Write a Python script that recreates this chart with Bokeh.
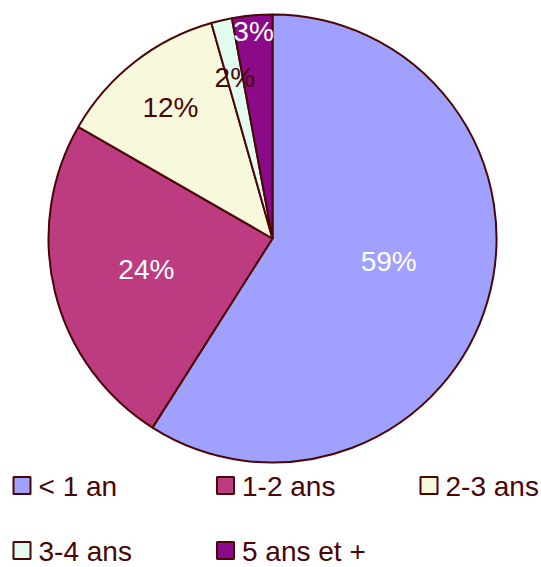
import math
from bokeh.plotting import figure
from bokeh.models import Range1d, ColumnDataSource
from bokeh.core.properties import value
from bokeh.embed import file_html
from bokeh.resources import INLINE

# ---- data ----
categories = ["< 1 an", "1-2 ans", "2-3 ans", "3-4 ans", "5 ans et +"]
shares = [59.0, 24.3, 12.3, 1.5, 2.9]
pct_labels = ["59%", "24%", "12%", "2%", "3%"]

# ---- styles ----
colors = ["#a0a0ff", "#bd3b80", "#f8f8dc", "#e0fcee", "#8a0a8a"]
label_colors = ["white", "white", "#4a0505", "#4a0505", "white"]
label_radius_frac = [0.54, 0.58, 0.74, 0.74, 0.93]
label_dy = [-11, 0, 0, 0, 0]
dark = "#4a0505"
FONT = "Liberation Sans"

W, H = 541, 567
cx, cy, R = 272, -238, 224  # page-pixel coordinates (y up, negative)

p = figure(width=W, height=H, output_backend="svg", toolbar_location=None,
           x_range=Range1d(0, W), y_range=Range1d(-H, 0),
           min_border=0)
p.axis.visible = False
p.grid.visible = False
p.outline_line_color = None
p.background_fill_color = "white"
p.border_fill_color = "white"

total = sum(shares)
starts, ends, lx, ly = [], [], [], []
cum = 0.0
for i, s in enumerate(shares):
    a0 = cum / total * 2 * math.pi
    cum += s
    a1 = cum / total * 2 * math.pi
    starts.append(math.pi / 2 - a0)
    ends.append(math.pi / 2 - a1)
    mid = (a0 + a1) / 2
    r = R * label_radius_frac[i]
    lx.append(cx + r * math.sin(mid))
    ly.append(cy + r * math.cos(mid))

src = ColumnDataSource(dict(start=starts, end=ends, color=colors,
                            lx=lx, ly=ly, lab=pct_labels, lc=label_colors,
                            dy=label_dy))
p.wedge(x=cx, y=cy, radius=R, start_angle="start", end_angle="end",
        direction="clock", fill_color="color", line_color=dark, line_width=2,
        source=src)
p.text(x="lx", y="ly", text="lab", text_color="lc", y_offset="dy", source=src,
       text_font=value(FONT), text_font_size="28px",
       text_align="center", text_baseline="middle")

# ---- legend (manual grid, 3 columns) ----
sx, sy, tx, ty = [], [], [], []
for i, c in enumerate(categories):
    col, row = i % 3, i // 3
    x0 = 21.5 + col * 203.5
    y0 = -(485 + row * 65)
    sx.append(x0)
    sy.append(y0)
    tx.append(x0 + 16.5)
    ty.append(y0 - 1)
p.rect(x=sx, y=sy, width=17, height=17, fill_color=colors,
       line_color=dark, line_width=2)
p.text(x=tx, y=ty, text=categories, text_color=dark,
       text_font=value(FONT), text_font_size="28px",
       text_align="left", text_baseline="middle")

open("out.html", "w").write(file_html(p, INLINE))
